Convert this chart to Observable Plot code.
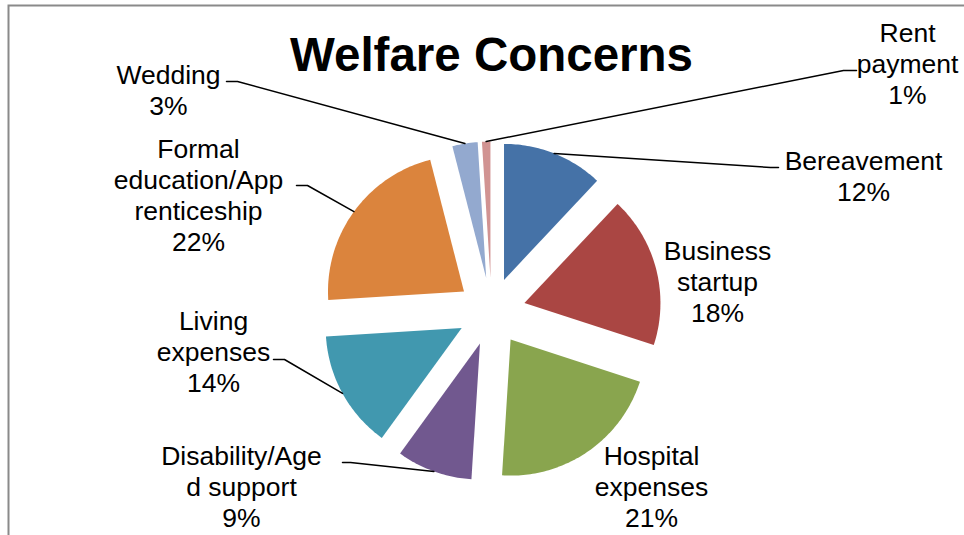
<!DOCTYPE html>
<html><head><meta charset="utf-8">
<script src="https://cdn.jsdelivr.net/npm/d3@7"></script>
<script src="https://cdn.jsdelivr.net/npm/@observablehq/plot@0.6"></script>
<style>body{margin:0;background:#fff;overflow:hidden;} #chart svg{display:block;}</style>
</head><body><div id="chart"></div>
<script>
// ---- data ----
const title = "Welfare Concerns";
const categories = ["Bereavement","Business startup","Hospital expenses","Disability/Aged support","Living expenses","Formal education/Apprenticeship","Wedding","Rent payment"];
const values = [12, 18, 21, 9, 14, 22, 3, 1];
const labelText = ["Bereavement","Business\nstartup","Hospital\nexpenses","Disability/Age\nd support","Living\nexpenses","Formal\neducation/App\nrenticeship","Wedding","Rent\npayment"];
const colors = ["#4572A7","#AA4643","#89A54E","#71588F","#4198AF","#DB843D","#93A9CF","#D19392"];

// ---- layout ----
const W = 964, H = 535, CX = 491, CY = 311, R = 136, EXPLODE = 34;
const labelPos = [[863,175],[717,281],[651,486],[241,486],[213,351],[198,194],[168,89.5],[907,63]];
const leaderLayout = [[770,167,778],null,null,[350,462,342],[284,359,273],[307,185,296],[237,81,226],[843,70,856]];

const rows = categories.map((c,i)=>({name:c, value:values[i], label:labelText[i]}));
const arcs = d3.pie().sort(null).value(d=>d.value).startAngle(0).endAngle(2*Math.PI)(rows);
const dir = a => [Math.sin(a), -Math.cos(a)];

const slicePts = [], leaderPts = [], labels = [];
arcs.forEach((a,i)=>{
  const mid = (a.startAngle + a.endAngle)/2;
  const [ux,uy] = dir(mid);
  const ox = CX + EXPLODE*ux, oy = CY + EXPLODE*uy;
  slicePts.push({name:a.data.name, x:ox, y:oy});
  const n = Math.max(2, Math.ceil((a.endAngle - a.startAngle)*180/Math.PI));
  for (let k=0;k<=n;k++){
    const t = a.startAngle + (a.endAngle - a.startAngle)*k/n;
    const [vx,vy] = dir(t);
    slicePts.push({name:a.data.name, x:ox + R*vx, y:oy + R*vy});
  }
  const L = leaderLayout[i];
  if (L) {
    leaderPts.push({name:a.data.name, x:ox + R*ux, y:oy + R*uy});
    leaderPts.push({name:a.data.name, x:L[0], y:L[1]});
    leaderPts.push({name:a.data.name, x:L[2], y:L[1]});
  }
  labels.push({x:labelPos[i][0], y:labelPos[i][1], text:`${a.data.label}\n${a.data.value}%`});
});

const chart = Plot.plot({
  width: W, height: H, margin: 0,
  x: {domain:[0,W], range:[0,W], axis:null},
  y: {domain:[0,H], range:[0,H], axis:null},
  color: {domain: categories, range: colors},
  style: {fontFamily: "Arial, 'Liberation Sans', sans-serif", background: "white", overflow: "hidden"},
  marks: [
    Plot.frame({stroke:"#8a8a8a", strokeWidth:2, insetLeft:8, insetTop:5, insetRight:-20, insetBottom:-20}),
    Plot.line(slicePts, {x:"x", y:"y", z:"name", fill:"name", stroke:"none", curve:"linear-closed"}),
    Plot.line(leaderPts, {x:"x", y:"y", z:"name", stroke:"black", strokeWidth:1.5}),
    Plot.text(labels, {x:"x", y:"y", text:"text", fontSize:26.5, lineHeight:1.17, fill:"black"}),
    Plot.text([title], {frameAnchor:"top", dx:9, dy:37, lineAnchor:"top", fontSize:47.5, fontWeight:"bold", fill:"black"})
  ]
});
document.getElementById("chart").append(chart);
</script>
</body></html>
